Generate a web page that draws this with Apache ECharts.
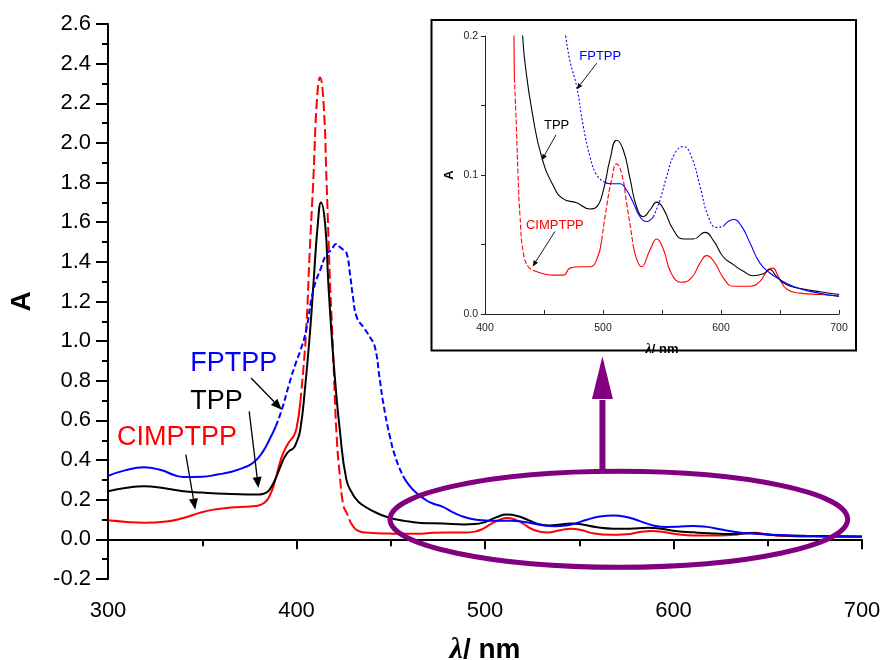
<!DOCTYPE html>
<html>
<head>
<meta charset="utf-8">
<script src="https://cdn.jsdelivr.net/npm/echarts@6/dist/echarts.min.js"></script>
<style>
  html, body { margin: 0; padding: 0; background: #fff; }
  #chart { width: 883px; height: 660px; }
</style>
</head>
<body>
<div id="chart"></div>
<script>
// UV-vis absorption spectra: [wavelength (nm), absorbance]
const cimptpp = [
  [300,0.096],[310,0.088],[319,0.084],[331,0.090],[340,0.108],[349,0.135],[356,0.150],[363,0.158],
  [370,0.163],[378,0.168],[383,0.185],[386,0.225],[388.3,0.285],[391,0.38],[393,0.436],[396,0.49],
  [398.4,0.52],[400,0.56],[402,0.69],[404,0.90],[405.4,1.10],[407,1.45],[409,1.83],[410.8,2.21],
  [412.5,2.33],[414.3,2.21],[416,1.79],[417.8,1.29],[418.7,1.10],[420,0.80],[421.3,0.52],[423,0.32],
  [424.9,0.17],[426.8,0.13],[428,0.10],[429.7,0.07],[432.5,0.044],[436.7,0.034],[442.4,0.031],
  [449.4,0.029],[457.9,0.028],[466.4,0.028],[472,0.033],[480.5,0.034],[489,0.034],[494.6,0.039],
  [498.9,0.053],[503,0.077],[507.3,0.0965],[511.6,0.108],[515.8,0.101],[520,0.080],[525.7,0.0486],
  [532.8,0.034],[539.8,0.046],[545.5,0.054],[551,0.047],[558,0.029],[566.5,0.0228],[575,0.026],
  [582.2,0.0366],[587.9,0.042],[594.9,0.0366],[602,0.026],[610.5,0.020],[624.6,0.020],[633,0.0235],
  [640,0.032],[643.8,0.033],[648.6,0.027],[655.6,0.018],[667,0.015],[684,0.014],[700,0.013]
];
const tpp = [
  [300,0.243],[310,0.26],[319,0.268],[330,0.258],[340,0.243],[350,0.236],[358,0.231],[370,0.228],
  [379.6,0.226],[383,0.232],[385,0.243],[387,0.27],[389.4,0.318],[392,0.38],[394,0.42],[396,0.445],
  [398.4,0.46],[400,0.49],[402,0.553],[404.6,0.77],[407.2,1.05],[409,1.29],[411.3,1.59],[413,1.70],
  [415.2,1.59],[416.9,1.29],[418.5,1.05],[420.5,0.80],[423,0.55],[426.5,0.30],[430,0.225],[431.9,0.2],
  [434,0.18],[440,0.145],[448,0.113],[458,0.092],[466,0.083],[477.7,0.080],[489,0.0755],
  [494.6,0.077],[500.3,0.089],[505.9,0.111],[511.6,0.125],[517.2,0.118],[523,0.097],[528.5,0.077],
  [534.2,0.070],[540,0.075],[545.5,0.0805],[551,0.076],[559.6,0.0606],[568,0.054],[576.6,0.054],
  [586.4,0.0587],[593.5,0.053],[602,0.041],[610.5,0.0355],[619,0.0307],[627.4,0.0275],[635.9,0.029],
  [641.5,0.032],[647,0.027],[655.6,0.021],[669.8,0.018],[684,0.016],[700,0.014]
];
const fptpp = [
  [300,0.32],[309,0.348],[319,0.364],[328,0.35],[335,0.325],[340,0.315],[350,0.316],[358,0.327],
  [365,0.34],[372,0.362],[377,0.386],[382,0.44],[386,0.51],[389,0.57],[392.2,0.654],[396,0.78],
  [400,0.90],[402,0.95],[405,1.05],[409,1.26],[413,1.37],[416,1.44],[418.5,1.46],[421,1.49],
  [423,1.475],[424.9,1.46],[426.7,1.44],[428.5,1.33],[430,1.22],[432,1.12],[435.5,1.07],[439,1.02],
  [441.6,0.97],[444,0.82],[446,0.69],[449.5,0.52],[453,0.40],[456.5,0.32],[460,0.27],[463.5,0.235],
  [468.4,0.2],[472,0.182],[477.7,0.1636],[483.3,0.135],[489,0.113],[494.6,0.100],[500.3,0.0953],
  [505.9,0.0937],[514.4,0.0937],[520,0.089],[525.7,0.080],[531.4,0.070],[537,0.0666],[542.7,0.070],
  [548.3,0.082],[554,0.099],[561,0.1157],[568,0.1205],[575,0.113],[582.2,0.092],[589.3,0.070],
  [596.3,0.0623],[602,0.063],[610.5,0.068],[617.5,0.063],[624.6,0.051],[633,0.0366],[641.5,0.0295],
  [650,0.0247],[661,0.020],[675.4,0.0163],[700,0.0127]
];

// Wavelength stretches drawn with a broken line, per panel
const mainDashed = { CIMPTPP: [[402, 428]], TPP: [], FPTPP: [[389, 458]] };
const insetDashed = { CIMPTPP: [[424, 440], [497, 525]], TPP: [], FPTPP: [[468, 500], [545, 600]] };

const FONT = '"Liberation Sans", Arial, sans-serif';
const spectra = [
  { name: 'CIMPTPP', data: cimptpp, color: '#ff0000', mainDash: [10, 4], insetDash: [5, 2] },
  { name: 'TPP', data: tpp, color: '#000000', mainDash: 'solid', insetDash: 'solid' },
  { name: 'FPTPP', data: fptpp, color: '#0000ff', mainDash: [6, 3], insetDash: [2, 2] }
];

// Cut a spectrum into consecutive solid / broken pieces
function splitPieces(points, ranges) {
  const inside = x => ranges.some(([a, b]) => x >= a && x <= b);
  const pieces = [];
  for (let i = 0; i < points.length - 1; i++) {
    const mid = (points[i][0] + points[i + 1][0]) / 2;
    const broken = inside(mid);
    const last = pieces[pieces.length - 1];
    if (last && last.broken === broken) last.data.push(points[i + 1]);
    else pieces.push({ broken, data: [points[i], points[i + 1]] });
  }
  return pieces;
}

const series = [];
spectra.forEach(s => {
  splitPieces(s.data, mainDashed[s.name]).forEach(p => series.push({
    name: s.name, type: 'line', xAxisIndex: 0, yAxisIndex: 0, data: p.data,
    showSymbol: false, smooth: 0.5, z: 2, silent: true,
    lineStyle: { color: s.color, width: 2, type: p.broken ? s.mainDash : 'solid' }
  }));
  splitPieces(s.data, insetDashed[s.name]).forEach(p => series.push({
    name: s.name, type: 'line', xAxisIndex: 1, yAxisIndex: 1, data: p.data,
    showSymbol: false, smooth: 0.5, z: 7, silent: true, clip: true,
    lineStyle: { color: s.color, width: 1.1, type: p.broken ? s.insetDash : 'solid' }
  }));
});

const oneDecimal = v => v.toFixed(1);
const chart = echarts.init(document.getElementById('chart'), null, { renderer: 'canvas' });

chart.setOption({
  animation: false,
  backgroundColor: '#ffffff',
  grid: [
    { left: 108, top: 24, width: 754, height: 555, containLabel: false, outerBoundsMode: 'none' },
    { left: 485, top: 36, width: 354, height: 278, containLabel: false, outerBoundsMode: 'none' }
  ],
  xAxis: [
    {
      gridIndex: 0, type: 'value', min: 300, max: 700, interval: 100,
      name: '{l|λ}{n|/ nm}', nameLocation: 'middle', nameGap: 56,
      nameTextStyle: { rich: {
        l: { fontFamily: '"Liberation Serif", serif', fontStyle: 'italic', fontWeight: 'bold', fontSize: 30, color: '#000' },
        n: { fontFamily: FONT, fontWeight: 'bold', fontSize: 28, color: '#000' }
      } },
      axisLine: { lineStyle: { color: '#000', width: 2 } },
      axisTick: { length: 10, lineStyle: { color: '#000', width: 2 } },
      minorTick: { show: true, splitNumber: 2, length: 7, lineStyle: { color: '#000', width: 2 } },
      splitLine: { show: false },
      axisLabel: { fontFamily: FONT, fontSize: 22, color: '#000', margin: 21 }
    },
    {
      gridIndex: 1, type: 'value', min: 400, max: 700, interval: 100, z: 6,
      name: '{l|λ}{n|/ nm}', nameLocation: 'middle', nameGap: 28,
      nameTextStyle: { rich: {
        l: { fontFamily: '"Liberation Serif", serif', fontStyle: 'italic', fontWeight: 'bold', fontSize: 14, color: '#000' },
        n: { fontFamily: FONT, fontWeight: 'bold', fontSize: 13, color: '#000' }
      } },
      axisLine: { lineStyle: { color: '#222', width: 1 } },
      axisTick: { inside: true, length: 4, lineStyle: { color: '#222', width: 1 } },
      minorTick: { show: true, splitNumber: 2, length: 4, lineStyle: { color: '#222', width: 1 } },
      splitLine: { show: false },
      axisLabel: { fontFamily: FONT, fontSize: 10.5, color: '#222', margin: 9 }
    }
  ],
  yAxis: [
    {
      gridIndex: 0, type: 'value', min: -0.2, max: 2.6, interval: 0.2,
      name: 'A', nameLocation: 'middle', nameGap: 72, nameRotate: 90,
      nameTextStyle: { fontFamily: FONT, fontWeight: 'bold', fontSize: 28, color: '#000' },
      axisLine: { lineStyle: { color: '#000', width: 2 } },
      axisTick: { length: 12, lineStyle: { color: '#000', width: 2 } },
      minorTick: { show: true, splitNumber: 2, length: 6, lineStyle: { color: '#000', width: 2 } },
      splitLine: { show: false },
      axisLabel: { fontFamily: FONT, fontSize: 22, color: '#000', margin: 17, formatter: oneDecimal }
    },
    {
      gridIndex: 1, type: 'value', min: 0, max: 0.2, interval: 0.1, z: 6,
      name: 'A', nameLocation: 'middle', nameGap: 29, nameRotate: 90,
      nameTextStyle: { fontFamily: FONT, fontWeight: 'bold', fontSize: 13, color: '#000' },
      axisLine: { lineStyle: { color: '#222', width: 1 } },
      axisTick: { length: 4, lineStyle: { color: '#222', width: 1 } },
      minorTick: { show: true, splitNumber: 2, length: 4, lineStyle: { color: '#222', width: 1 } },
      splitLine: { show: false },
      axisLabel: { fontFamily: FONT, fontSize: 10.5, color: '#222', margin: 7, formatter: oneDecimal }
    }
  ],
  series: series
});

// Annotations placed in data units of each panel
const mainLabels = [
  { text: 'FPTPP', color: '#0000ff', at: [343.6, 0.886], from: [375.9, 0.814], to: [392.2, 0.654] },
  { text: 'TPP', color: '#000000', at: [343.6, 0.696], from: [374.9, 0.646], to: [379.8, 0.259] },
  { text: 'CIMPTPP', color: '#ff0000', at: [304.8, 0.513], from: [341.3, 0.427], to: [346.3, 0.150] }
];
const insetLabels = [
  { text: 'FPTPP', color: '#0000ff', at: [479.9, 0.1851], from: [494.7, 0.1804], to: [477.7, 0.1617] },
  { text: 'TPP', color: '#000000', at: [450.0, 0.1360], from: [460.2, 0.1289], to: [448.1, 0.1107] },
  { text: 'CIMPTPP', color: '#ff0000', at: [434.7, 0.0637], from: [459.3, 0.0594], to: [440.4, 0.0342] }
];
const highlight = { center: [571, 0.101], halfWidth: 121.4, halfHeight: 0.242 };
const pointer = { x: 562.3, base: 0.343, headBase: 0.708, tip: 0.923, headHalf: 5.56 };

const mainPx = p => chart.convertToPixel({ xAxisIndex: 0, yAxisIndex: 0 }, p);
const insetPx = p => chart.convertToPixel({ xAxisIndex: 1, yAxisIndex: 1 }, p);

function arrow(toPx, from, to, headLen, headHalf, width, z) {
  const [x1, y1] = toPx(from), [x2, y2] = toPx(to);
  const dx = x2 - x1, dy = y2 - y1, len = Math.hypot(dx, dy);
  const ux = dx / len, uy = dy / len;
  const bx = x2 - ux * headLen, by = y2 - uy * headLen;
  return [
    { type: 'line', z, silent: true, shape: { x1, y1, x2: bx, y2: by }, style: { stroke: '#000', lineWidth: width } },
    { type: 'polygon', z, silent: true,
      shape: { points: [[x2, y2], [bx - uy * headHalf, by + ux * headHalf], [bx + uy * headHalf, by - ux * headHalf]] },
      style: { fill: '#000' } }
  ];
}

const graphics = [];
// inset frame
const g1 = chart.getModel().getComponent('grid', 1).coordinateSystem.getRect();
graphics.push({
  type: 'rect', z: 5, silent: true,
  shape: { x: g1.x - 53.5, y: g1.y - 16, width: g1.width + 70.5, height: g1.height + 52.5 },
  style: { fill: '#fff', stroke: '#000', lineWidth: 2 }
});

mainLabels.forEach(l => {
  const [x, y] = mainPx(l.at);
  graphics.push({ type: 'text', z: 8, silent: true, x, y,
    style: { text: l.text, fill: l.color, font: '27px ' + FONT, align: 'left', verticalAlign: 'middle' } });
  graphics.push(...arrow(mainPx, l.from, l.to, 11, 4.5, 1.3, 8));
});
insetLabels.forEach(l => {
  const [x, y] = insetPx(l.at);
  graphics.push({ type: 'text', z: 8, silent: true, x, y,
    style: { text: l.text, fill: l.color, font: '13px ' + FONT, align: 'left', verticalAlign: 'middle' } });
  graphics.push(...arrow(insetPx, l.from, l.to, 6, 2.5, 0.9, 8));
});

// purple ellipse around the Q-band region and the pointer to the inset
const [cx, cy] = mainPx(highlight.center);
const [ex] = mainPx([highlight.center[0] + highlight.halfWidth, highlight.center[1]]);
const [, ey] = mainPx([highlight.center[0], highlight.center[1] + highlight.halfHeight]);
graphics.push({ type: 'ellipse', z: 8, silent: true,
  shape: { cx, cy, rx: ex - cx, ry: cy - ey },
  style: { fill: null, stroke: '#800080', lineWidth: 5 } });
const [px, pBase] = mainPx([pointer.x, pointer.base]);
const [, pHeadBase] = mainPx([pointer.x, pointer.headBase]);
const [, pTip] = mainPx([pointer.x, pointer.tip]);
const [pLeft] = mainPx([pointer.x - pointer.headHalf, pointer.tip]);
const headHalfPx = px - pLeft;
graphics.push({ type: 'line', z: 9, silent: true,
  shape: { x1: px, y1: pBase, x2: px, y2: pHeadBase + 1 },
  style: { stroke: '#800080', lineWidth: 6 } });
graphics.push({ type: 'polygon', z: 9, silent: true,
  shape: { points: [[px, pTip], [px - headHalfPx, pHeadBase], [px + headHalfPx, pHeadBase]] },
  style: { fill: '#800080' } });

chart.setOption({ graphic: graphics });
</script>
</body>
</html>
